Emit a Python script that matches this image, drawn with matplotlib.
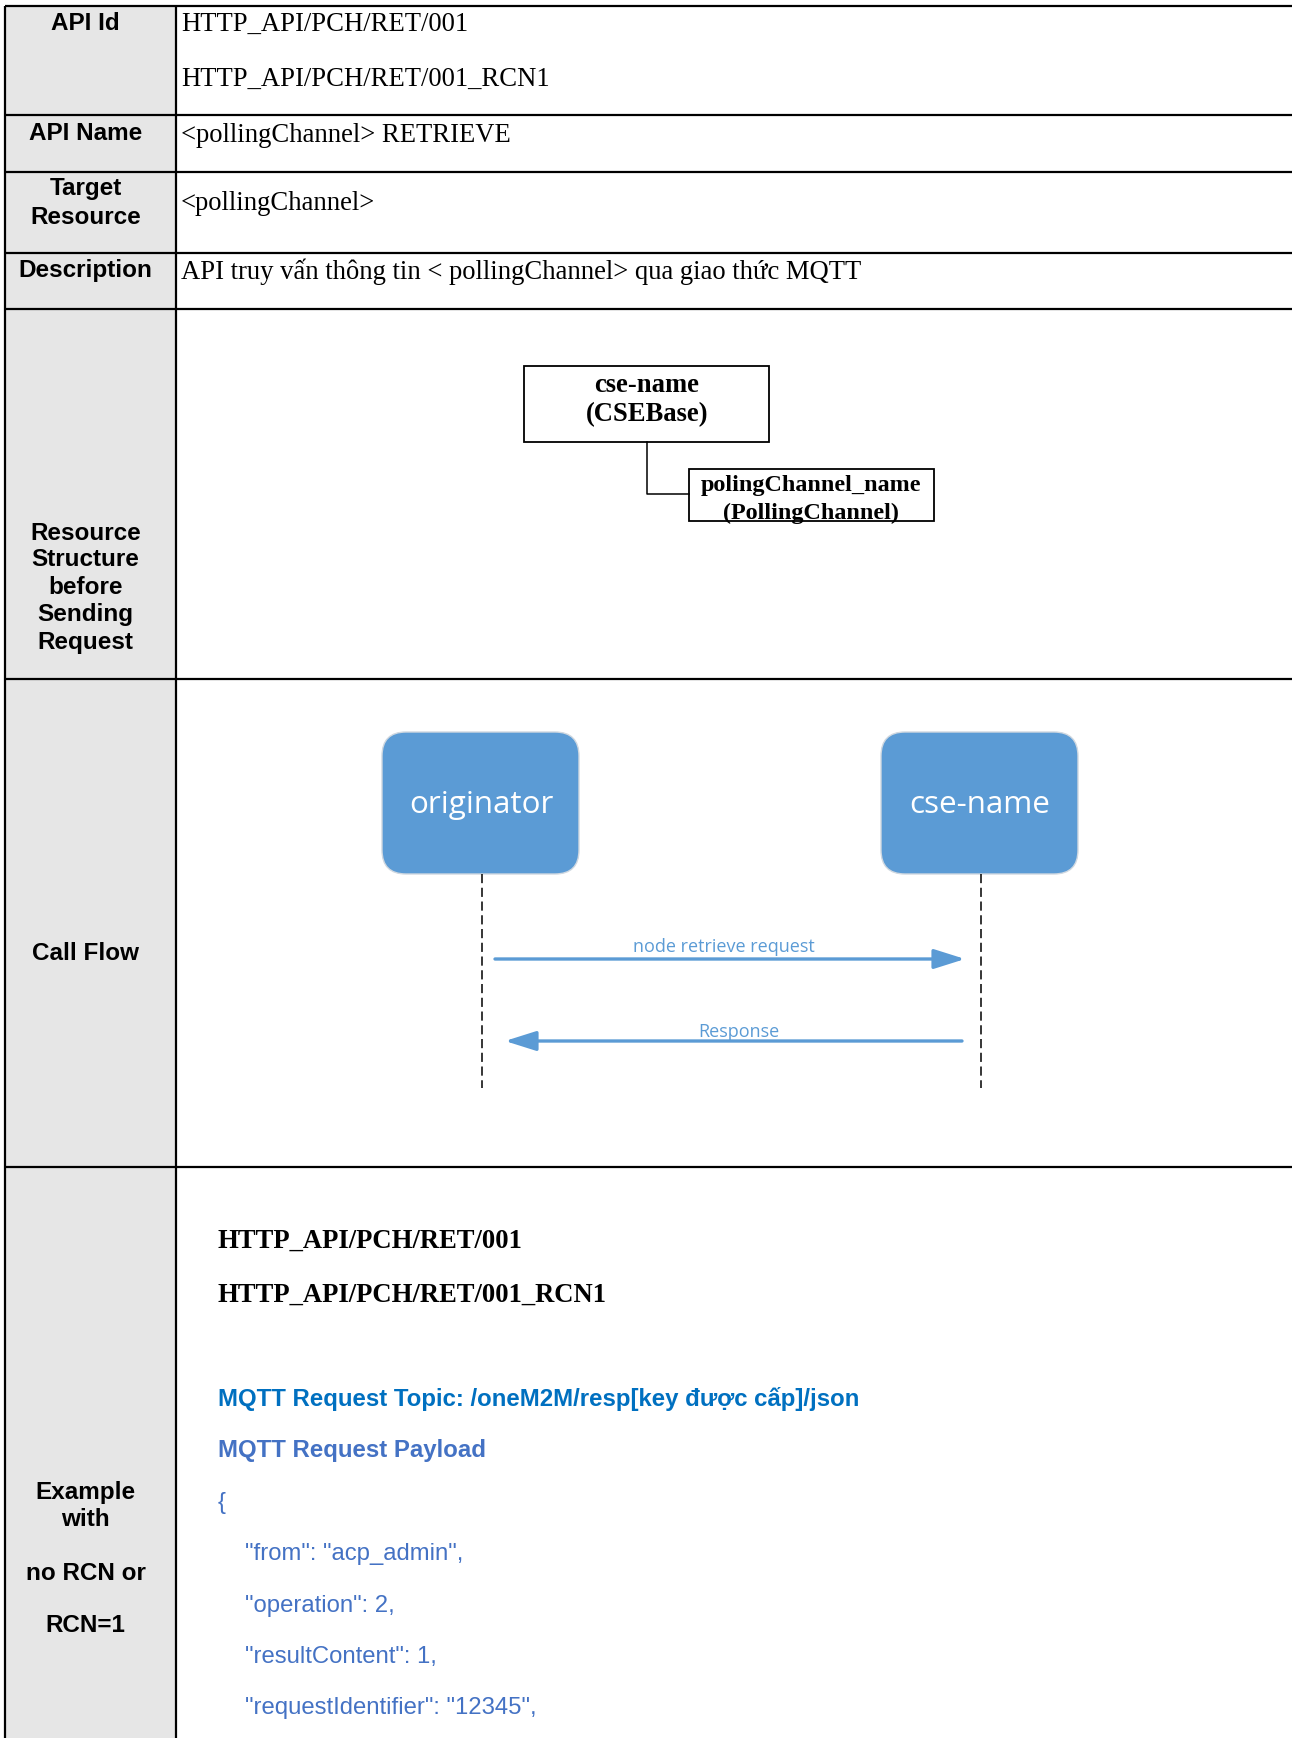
import matplotlib
matplotlib.use('Agg')
import matplotlib.pyplot as plt
from matplotlib.patches import Rectangle, FancyBboxPatch, FancyArrowPatch

# --- content of the table ---
row_labels = [["API Id"], ["API Name"], ["Target", "Resource"], ["Description"],
              ["Resource", "Structure", "before", "Sending", "Request"],
              ["Call Flow"], ["Example", "with", "no RCN or", "RCN=1"]]
api_ids = ["HTTP_API/PCH/RET/001", "HTTP_API/PCH/RET/001_RCN1"]
api_name = "<pollingChannel> RETRIEVE"
target = "<pollingChannel>"
description = "API truy vấn thông tin < pollingChannel> qua giao thức MQTT"
parent_node = ["cse-name", "(CSEBase)"]
child_node = ["polingChannel_name", "(PollingChannel)"]
actors = ["originator", "cse-name"]
messages = ["node retrieve request", "Response"]
topic = "MQTT Request Topic: /oneM2M/resp[key được cấp]/json"
payload_title = "MQTT Request Payload"
json_lines = ['{', '"from": "acp_admin",', '"operation": 2,',
              '"resultContent": 1,', '"requestIdentifier": "12345",']

# --- layout (pixels) ---
W, H = 1292, 1738
x_left, x_div = 4.5, 176
row_edges = [5.5, 115, 172, 253, 309, 679, 1167, H + 5]
label_ys = [[23], [134], [188, 217], [270], [533, 559, 587, 615, 642],
            [953], [1492, 1520, 1573, 1625]]

SANS = ['Liberation Sans', 'DejaVu Sans']
SERIF = ['Liberation Serif', 'DejaVu Serif']
UI = ['Open Sans', 'DejaVu Sans']
BLUE = '#5B9BD5'

fig = plt.figure(figsize=(W / 100, H / 100), dpi=100)
ax = fig.add_axes([0, 0, 1, 1])
ax.set_xlim(0, W)
ax.set_ylim(H, 0)
ax.axis('off')

# left column shading and grid
ax.add_patch(Rectangle((x_left, row_edges[0]), x_div - x_left, H, facecolor='#E6E6E6', edgecolor='none'))
for y in row_edges[:-1]:
    ax.plot([x_left, W], [y, y], color='black', lw=1.6, solid_capstyle='butt')
for x in [x_left, x_div]:
    ax.plot([x, x], [row_edges[0], H], color='black', lw=1.6, solid_capstyle='butt')

for lines, ys in zip(row_labels, label_ys):
    for s, y in zip(lines, ys):
        ax.text(85.5, y, s, family=SANS, weight='bold', fontsize=17.5, ha='center', va='center')

# plain text cells
tx = 181
ax.text(tx, 24, api_ids[0], family=SERIF, fontsize=19.2, va='center')
ax.text(tx, 79, api_ids[1], family=SERIF, fontsize=19.2, va='center')
ax.text(tx, 136, api_name, family=SERIF, fontsize=19.2, va='center')
ax.text(tx, 204, target, family=SERIF, fontsize=19.2, va='center')
ax.text(tx, 272, description, family=SERIF, fontsize=19.2, va='center')

# resource structure
b1 = Rectangle((524, 366), 245, 76, facecolor='white', edgecolor='black', lw=1.3)
b2 = Rectangle((689, 469), 245, 52, facecolor='white', edgecolor='black', lw=1.3)
ax.add_patch(b1)
ax.plot([647, 647, 689], [442, 494, 494], color='black', lw=1.1)
ax.add_patch(b2)
for s, y in zip(parent_node, [385, 415]):
    ax.text(647, y, s, family=SERIF, weight='bold', fontsize=19.2, ha='center', va='center')
for s, y in zip(child_node, [486, 513]):
    t = ax.text(811, y, s, family=SERIF, weight='bold', fontsize=17.4, ha='center', va='center')
    t.set_clip_path(b2)

# call flow
actor_x = [481, 980]
for x, name in zip(actor_x, actors):
    ax.add_patch(FancyBboxPatch((x - 99, 732), 197, 142, boxstyle='round,pad=0,rounding_size=24',
                                facecolor=BLUE, edgecolor='#D0D8E0', lw=1))
    ax.text(x, 805, name, family=UI, fontsize=22.6, color='white', ha='center', va='center')
for x in [482, 981]:
    ax.plot([x, x], [874, 1088], color='black', lw=1.1, linestyle=(0, (6, 3)))

ax.add_patch(FancyArrowPatch((495, 959), (965, 959), arrowstyle='-|>,head_length=1.9,head_width=0.6',
                             mutation_scale=10, color=BLUE, lw=2.4, shrinkA=0, shrinkB=0))
ax.text(724, 947, messages[0], family=UI, fontsize=13, color=BLUE, ha='center', va='center')
ax.add_patch(FancyArrowPatch((962, 1041), (505, 1041), arrowstyle='-|>,head_length=1.9,head_width=0.6',
                             mutation_scale=10, color=BLUE, lw=2.4, shrinkA=0, shrinkB=0))
ax.text(739, 1032, messages[1], family=UI, fontsize=13, color=BLUE, ha='center', va='center')

# example
ex = 218
ax.text(ex, 1241, api_ids[0], family=SERIF, weight='bold', fontsize=19.2, va='center')
ax.text(ex, 1295, api_ids[1], family=SERIF, weight='bold', fontsize=19.2, va='center')
ax.text(ex, 1399, topic, family=SANS, weight='bold', fontsize=17.3, color='#0070C0', va='center')
ax.text(ex, 1451, payload_title, family=SANS, weight='bold', fontsize=17.3, color='#4472C4', va='center')
json_ys = [1503, 1554, 1606, 1657, 1708]
for i, (s, y) in enumerate(zip(json_lines, json_ys)):
    ax.text(ex if i == 0 else 245, y, s, family=SANS, fontsize=17.2, color='#4472C4', va='center')

fig.savefig('out.png', dpi=100, facecolor='white')
